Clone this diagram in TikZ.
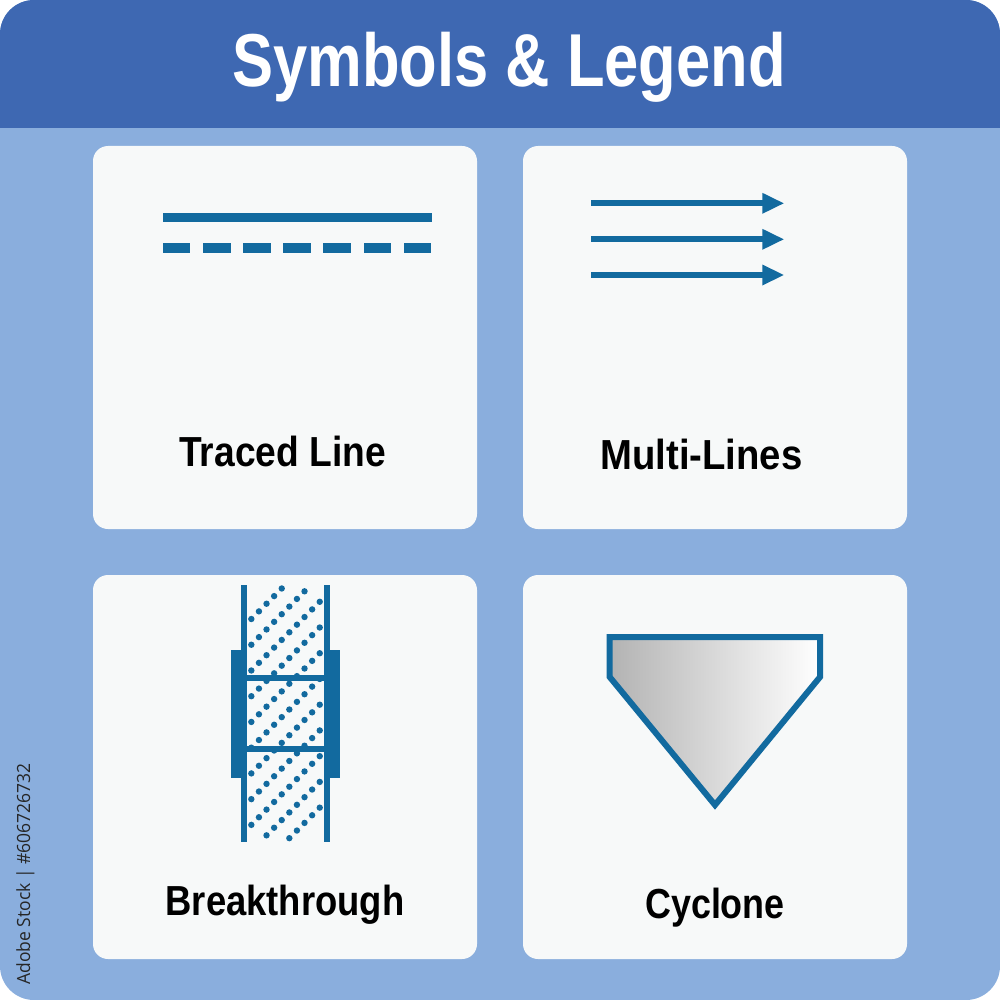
\documentclass[tikz,border=0pt]{standalone}
\usepackage{fontspec}
\newfontfamily\titlef[FakeStretch=0.82]{Liberation Sans}
\newfontfamily\condf[FakeStretch=0.885]{Liberation Sans}
\newfontfamily\markf[FakeStretch=0.96]{Open Sans}
\definecolor{hdr}{HTML}{3E68B2}
\definecolor{bgblue}{HTML}{8AAEDD}
\definecolor{card}{HTML}{F7F9F9}
\definecolor{ink}{HTML}{126A9F}
\tikzset{
  x=0.5pt,y=-0.5pt,
  cardbox/.style={fill=card,rounded corners=7.5pt},
  inkfill/.style={fill=ink,draw=none},
  arrowline/.style={draw=ink,line width=3pt},
  arrowhead/.style={fill=ink,draw=none},
  label/.style={font=\condf\bfseries\fontsize{21}{24}\selectfont,text=black,inner sep=0pt,anchor=base},
  titletext/.style={font=\titlef\bfseries\fontsize{37.5}{40}\selectfont,text=white,inner sep=0pt,anchor=base},
}
\begin{document}
\begin{tikzpicture}
\useasboundingbox (0,0) rectangle (1000,1000);
% panel
\fill[bgblue,rounded corners=17pt] (0,0) rectangle (1000,1000);
\begin{scope}
\clip[rounded corners=17pt] (0,0) rectangle (1000,1000);
\fill[hdr] (0,0) rectangle (1000,128);
\end{scope}
\node[titletext] (title) at (509,86.7) {Symbols \& Legend};
% cards
\fill[cardbox] (93,146) rectangle (477,529);
\fill[cardbox] (523,146) rectangle (907,529);
\fill[cardbox] (93,575) rectangle (477,959);
\fill[cardbox] (523,575) rectangle (907,959);
% traced line
\fill[inkfill] (162.7,212.7) rectangle (431.7,222.5);
\foreach \i in {0,...,6}{
  \fill[inkfill] ({162.7+40.17*\i},243.3) rectangle ({190.4+40.17*\i},253);
}
\node[label] (traced) at (282.5,466.5) {Traced Line};
% multi lines
\foreach \y in {203.3,239.3,275}{
  \draw[arrowline] (591,\y) -- (763,\y);
  \fill[arrowhead] (762.3,\y-10.5) -- (783.7,\y) -- (762.3,\y+10.5) -- cycle;
}
\node[label,xscale=1.03] (multi) at (701.5,469) {Multi-Lines};
% breakthrough dots
\foreach \k in {0,...,10}{
  \foreach \i in {0,...,9}{
    \pgfmathsetmacro{\dy}{132+77.2*\k-22.9*\i}
    \pgfmathsetmacro{\dx}{154+22.8*\i}
    \pgfmathparse{(\dy>35 && \dy<795) ? 1 : 0}
    \ifnum\pgfmathresult=1
      \fill[ink] ({200+\dx/3},{575+\dy/3}) circle[radius=3.2];
    \fi
  }
}
% breakthrough frame
\fill[inkfill] (240.7,585) rectangle (246.7,841.7);
\fill[inkfill] (323.7,585) rectangle (329.7,841.7);
\fill[inkfill] (230.7,650.3) rectangle (246.7,778.3);
\fill[inkfill] (323.7,650.3) rectangle (339.7,778.3);
\fill[inkfill] (246,674.7) rectangle (324,680.7);
\fill[inkfill] (246,746.3) rectangle (324,752.3);
\node[label,xscale=0.98] (breakthrough) at (285,915.7) {Breakthrough};
% cyclone
\draw[draw=ink,line width=3pt,miter limit=10,left color=black!30,right color=white,middle color=black!15]
  (609.7,637) -- (820,637) -- (820,677) -- (715,805) -- (609.7,677) -- cycle;
\node[label,xscale=0.965] (cyclone) at (715,918) {Cyclone};
% side text
\node[font=\markf\fontsize{9.1}{11}\selectfont,text=black!85,rotate=90,inner sep=0pt,anchor=base] (stock) at (30,874) {Adobe Stock | \#606726732};
\end{tikzpicture}
\end{document}
